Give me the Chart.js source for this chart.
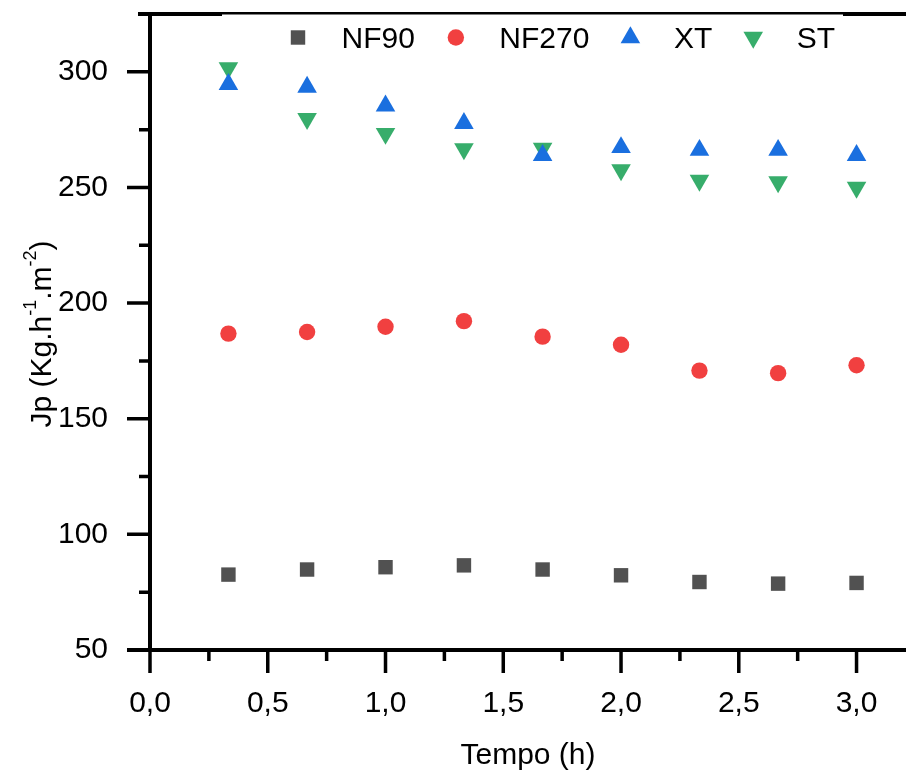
<!DOCTYPE html>
<html>
<head>
<meta charset="utf-8">
<script src="https://cdn.jsdelivr.net/npm/chart.js@4.4.0/dist/chart.umd.min.js"></script>
<style>
  html, body { margin: 0; padding: 0; background: #fff; }
  #wrap { width: 906px; height: 778px; }
</style>
</head>
<body>
<div id="wrap"><canvas id="chart" width="906" height="778"></canvas></div>
<script>
  // tempo (h) e fluxo de permeado Jp para cada membrana
  const tempo = [0.333, 0.667, 1.0, 1.333, 1.667, 2.0, 2.333, 2.667, 3.0];
  const nf90 = [82.6, 84.8, 85.8, 86.6, 84.8, 82.3, 79.4, 78.7, 79.0];
  const nf270 = [186.8, 187.5, 189.8, 192.2, 185.5, 182.0, 170.8, 169.7, 173.1];
  const xt = [294.6, 293.4, 285.3, 277.7, 263.9, 267.3, 266.1, 266.1, 263.9];
  const st = [301.7, 279.7, 273.3, 266.7, 266.9, 257.6, 253.0, 252.4, 250.0];

  const nomes = ['NF90', 'NF270', 'XT', 'ST'];
  const cores = ['#515151', '#F14040', '#1A6FDF', '#37AD6B'];
  const tituloX = 'Tempo (h)';
  // partes do título do eixo y: [texto, sobrescrito?]
  const tituloY = [['Jp (Kg.h', false], ['-1', true], ['.m', false], ['-2', true], [')', false]];

  const FONTE = '"Liberation Sans", Arial, sans-serif';
  const estilos = [
    { pointStyle: 'rect', radius: 10.2, rotation: 0 },
    { pointStyle: 'circle', radius: 8.2, rotation: 0 },
    { pointStyle: 'triangle', radius: 11.3, rotation: 0 },
    { pointStyle: 'triangle', radius: 11.3, rotation: 180 }
  ];

  function pontos(ys) {
    return tempo.map((t, i) => ({ x: t, y: ys[i] }));
  }

  const series = [nf90, nf270, xt, st];
  const datasets = series.map((ys, i) => ({
    label: nomes[i],
    data: pontos(ys),
    showLine: false,
    backgroundColor: cores[i],
    borderColor: cores[i],
    borderWidth: 0,
    pointStyle: estilos[i].pointStyle,
    pointRadius: estilos[i].radius,
    pointHoverRadius: estilos[i].radius,
    pointRotation: estilos[i].rotation,
    clip: false
  }));

  // eixos, marcas de escala (maiores e menores), título y e legenda
  const moldura = {
    id: 'moldura',
    beforeDatasetsDraw(chart) {
      const { ctx, chartArea: a, scales } = chart;
      ctx.save();
      ctx.strokeStyle = '#000';
      ctx.lineWidth = 4;
      ctx.beginPath();
      ctx.moveTo(a.left - 12, a.top);
      ctx.lineTo(a.right, a.top);
      ctx.moveTo(a.left, a.top - 2);
      ctx.lineTo(a.left, a.bottom + 2);
      ctx.moveTo(a.left - 23, a.bottom);
      ctx.lineTo(a.right, a.bottom);
      ctx.stroke();

      ctx.lineWidth = 3.5;
      ctx.beginPath();
      const ty = scales.y.ticks.map(t => t.value);
      ty.forEach((v, i) => {
        const py = scales.y.getPixelForValue(v);
        ctx.moveTo(a.left, py);
        ctx.lineTo(a.left - 23, py);
        if (i < ty.length - 1) {
          const pm = scales.y.getPixelForValue((v + ty[i + 1]) / 2);
          ctx.moveTo(a.left, pm);
          ctx.lineTo(a.left - 11, pm);
        }
      });
      const tx = scales.x.ticks.map(t => t.value);
      tx.forEach((v, i) => {
        const px = scales.x.getPixelForValue(v);
        ctx.moveTo(px, a.bottom);
        ctx.lineTo(px, a.bottom + 23);
        if (i < tx.length - 1) {
          const pm = scales.x.getPixelForValue((v + tx[i + 1]) / 2);
          ctx.moveTo(pm, a.bottom);
          ctx.lineTo(pm, a.bottom + 11);
        }
      });
      ctx.stroke();

      // título do eixo y com sobrescritos
      ctx.fillStyle = '#000';
      ctx.textBaseline = 'alphabetic';
      ctx.textAlign = 'left';
      const larg = tituloY.map(([txt, sup]) => {
        ctx.font = (sup ? 18 : 30) + 'px ' + FONTE;
        return ctx.measureText(txt).width;
      });
      const total = larg.reduce((s, w) => s + w, 0);
      ctx.translate(51, (a.top + a.bottom) / 2 + 2);
      ctx.rotate(-Math.PI / 2);
      let cx = -total / 2;
      tituloY.forEach(([txt, sup], i) => {
        ctx.font = (sup ? 18 : 30) + 'px ' + FONTE;
        ctx.fillText(txt, cx, sup ? -15 : 0);
        cx += larg[i];
      });
      ctx.restore();
    },
    afterDraw(chart) {
      const { ctx } = chart;
      ctx.save();
      ctx.fillStyle = '#fff';
      ctx.fillRect(222, 14.5, 621, 42);
      ctx.font = '30px ' + FONTE;
      ctx.textBaseline = 'alphabetic';
      ctx.textAlign = 'left';
      let cx = 298;
      nomes.forEach((nome, i) => {
        ctx.fillStyle = cores[i];
        Chart.helpers.drawPoint(ctx, {
          pointStyle: estilos[i].pointStyle,
          radius: estilos[i].radius,
          rotation: estilos[i].rotation,
          borderWidth: 0
        }, cx, 37.5);
        ctx.fillStyle = '#000';
        const x0 = cx + 43.5;
        ctx.fillText(nome, x0, 48.3);
        cx = x0 + ctx.measureText(nome).width + 41;
      });
      ctx.restore();
    }
  };

  new Chart(document.getElementById('chart'), {
    type: 'scatter',
    data: { datasets },
    options: {
      responsive: false,
      animation: false,
      devicePixelRatio: 1,
      layout: { autoPadding: false, padding: { top: 14, right: 0, bottom: 0, left: 0 } },
      plugins: {
        legend: { display: false },
        tooltip: { enabled: false }
      },
      scales: {
        x: {
          type: 'linear',
          min: 0,
          max: 3.21,
          afterFit(scale) {
            scale.height = 128;
            scale.paddingLeft = 0;
            scale.paddingRight = 0;
          },
          grid: { display: false, drawTicks: false },
          border: { display: false },
          ticks: {
            stepSize: 0.5,
            includeBounds: false,
            padding: 36,
            color: '#000',
            font: { family: FONTE, size: 30 },
            callback: v => v.toFixed(1).replace('.', ',')
          },
          title: {
            display: true,
            text: tituloX,
            color: '#000',
            font: { family: FONTE, size: 30 },
            padding: { top: 0, bottom: 4 }
          }
        },
        y: {
          type: 'linear',
          min: 50,
          max: 325,
          afterFit(scale) {
            scale.width = 150;
            scale.paddingTop = 0;
            scale.paddingBottom = 0;
          },
          grid: { display: false, drawTicks: false },
          border: { display: false },
          ticks: {
            stepSize: 50,
            includeBounds: false,
            padding: 42,
            color: '#000',
            font: { family: FONTE, size: 30 }
          },
          title: { display: false, text: 'Jp (Kg.h-1.m-2)' }
        }
      }
    },
    plugins: [moldura]
  });
</script>
</body>
</html>
